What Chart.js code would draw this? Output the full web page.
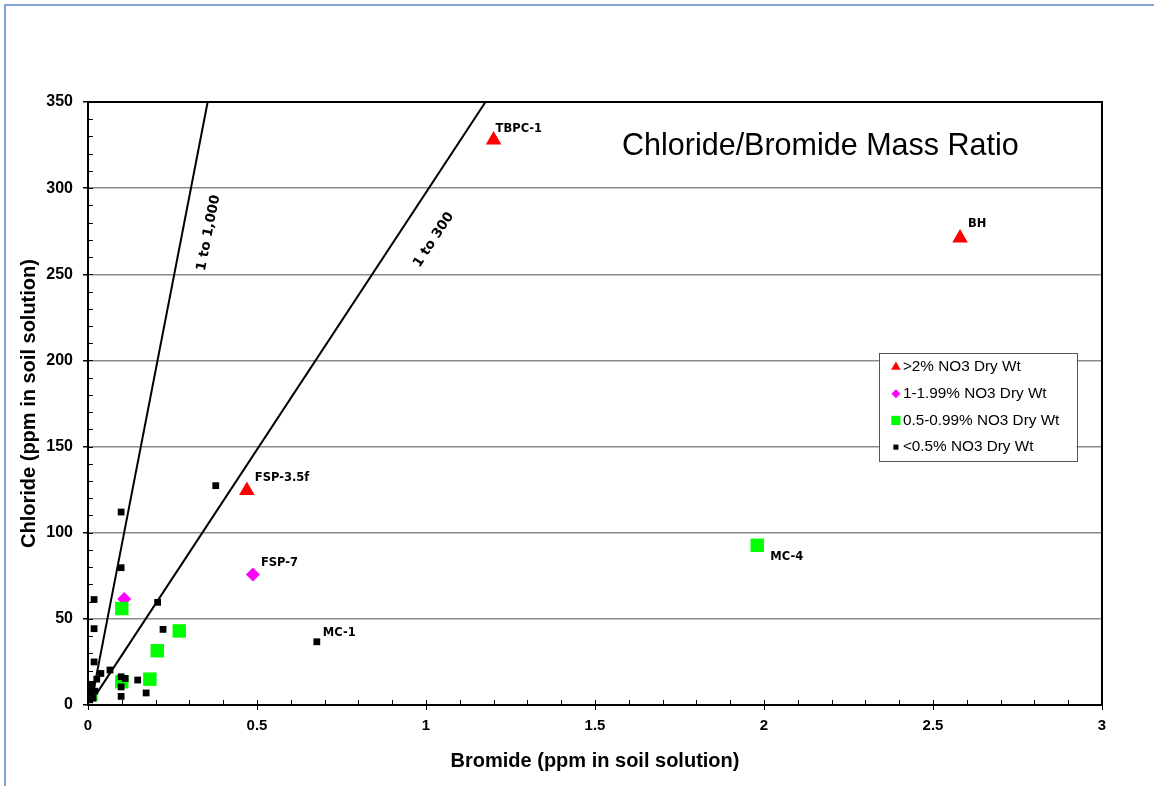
<!DOCTYPE html>
<html>
<head>
<meta charset="utf-8">
<title>Chloride/Bromide Mass Ratio</title>
<script src="https://cdn.jsdelivr.net/npm/chart.js@4.4.0/dist/chart.umd.min.js"></script>
<style>
	html, body { margin: 0; padding: 0; background: #fff; }
	canvas { display: block; }
</style>
</head>
<body>
<canvas id="chart" width="1154" height="786"></canvas>
<script>
// Bromide (x) and chloride (y) in ppm, grouped by NO3 dry weight class
const highBr = [1.2, 2.58, 0.47];
const highCl = [328, 271, 124.5];
const highNames = ["TBPC-1", "BH", "FSP-3.5f"];

const midBr = [0.488, 0.107];
const midCl = [75.7, 61.5];
const midNames = ["FSP-7", ""];

const lowBr = [1.98, 0.1, 0.27, 0.205, 0.183, 0.1, 0.008];
const lowCl = [92.7, 56, 43, 31.5, 15, 13.5, 6];
const lowNames = ["MC-4", "", "", "", "", "", ""];

const traceBr = [0.378, 0.098, 0.098, 0.018, 0.206, 0.018, 0.222, 0.677, 0.018, 0.065, 0.038, 0.026,
	0.098, 0.11, 0.147, 0.098, 0.098, 0.172, 0.005, 0.01, 0.015, 0.005, 0.02, 0.012];
const traceCl = [127.3, 112, 79.7, 61.2, 59.6, 44.3, 43.9, 36.7, 25, 20.3, 18.3, 15,
	16.4, 15.4, 14.5, 10.5, 5, 7, 10, 7, 4, 3, 8, 12];
const traceNames = ["", "", "", "", "", "", "", "MC-1"];

// Reference ratio lines (Cl : Br)
const line1000Br = [0.012, 0.354];
const line1000Cl = [4, 350];
const line300Br = [0.02, 1.176];
const line300Cl = [5, 350];

const seriesLabels = [">2% NO3 Dry Wt", "1-1.99% NO3 Dry Wt", "0.5-0.99% NO3 Dry Wt", "<0.5% NO3 Dry Wt"];
const chartTitle = "Chloride/Bromide Mass Ratio";

const toPoints = (xs, ys) => xs.map((x, i) => ({ x: x, y: ys[i] }));

// label nudges in px for a few crowded points
const nameOffset = { "TBPC-1": [2, -11], "BH": [8, -14], "MC-4": [13, 12], "MC-1": [6, -9] };

const decorations = {
	id: "decorations",
	beforeDraw(chart) {
		const ctx = chart.ctx;
		ctx.save();
		ctx.fillStyle = "#fff";
		ctx.fillRect(0, 0, chart.width, chart.height);
		ctx.strokeStyle = "#5b87c5";
		ctx.lineWidth = 1.5;
		ctx.beginPath();
		ctx.moveTo(5, chart.height);
		ctx.lineTo(5, 5);
		ctx.lineTo(chart.width, 5);
		ctx.stroke();
		ctx.restore();
	},
	afterDatasetsDraw(chart) {
		const ctx = chart.ctx;
		const area = chart.chartArea;
		const xs = chart.scales.x;
		const ys = chart.scales.y;
		ctx.save();

		// plot frame
		ctx.strokeStyle = "#000";
		ctx.lineWidth = 2;
		ctx.strokeRect(area.left, area.top, area.right - area.left, area.bottom - area.top);

		// minor ticks
		ctx.lineWidth = 1;
		ctx.beginPath();
		for (let v = 10; v < 350; v += 10) {
			const py = Math.round(ys.getPixelForValue(v)) + 0.5;
			ctx.moveTo(area.left, py);
			ctx.lineTo(area.left + 5, py);
		}
		for (let k = 1; k < 30; k++) {
			const px = Math.round(xs.getPixelForValue(k / 10)) + 0.5;
			ctx.moveTo(px, area.bottom);
			ctx.lineTo(px, area.bottom - 5);
		}
		ctx.stroke();

		// point names
		ctx.fillStyle = "#000";
		ctx.font = "bold 11.5px 'DejaVu Sans'";
		ctx.textBaseline = "middle";
		ctx.textAlign = "left";
		chart.data.datasets.forEach((ds, di) => {
			if (!ds.names) return;
			chart.getDatasetMeta(di).data.forEach((el, i) => {
				const name = ds.names[i];
				if (!name) return;
				const off = nameOffset[name] || [8, -12];
				ctx.fillText(name, el.x + off[0], el.y + off[1]);
			});
		});

		// ratio line captions, turned to follow each line
		ctx.font = "bold 13.5px 'DejaVu Sans'";
		ctx.textAlign = "center";
		[["1 to 1,000", line1000Br, line1000Cl, 0.357, 274], ["1 to 300", line300Br, line300Cl, 1.023, 270]].forEach(([text, bx, cy, ax, ay]) => {
			const dx = xs.getPixelForValue(bx[1]) - xs.getPixelForValue(bx[0]);
			const dy = ys.getPixelForValue(cy[1]) - ys.getPixelForValue(cy[0]);
			ctx.save();
			ctx.translate(xs.getPixelForValue(ax), ys.getPixelForValue(ay));
			ctx.rotate(Math.atan2(dy, dx));
			ctx.fillText(text, 0, 0);
			ctx.restore();
		});

		// title inside the plot
		ctx.font = "30.5px 'Liberation Sans'";
		ctx.textAlign = "left";
		ctx.fillText(chartTitle, xs.getPixelForValue(1.58), ys.getPixelForValue(324));

		// legend box
		const bx = xs.getPixelForValue(2.34);
		const bw = xs.getPixelForValue(2.925) - bx;
		const by = ys.getPixelForValue(204.3);
		const bh = ys.getPixelForValue(141.6) - by;
		ctx.fillStyle = "#fff";
		ctx.fillRect(bx, by, bw, bh);
		ctx.strokeStyle = "#555";
		ctx.lineWidth = 1;
		ctx.strokeRect(Math.round(bx) + 0.5, Math.round(by) + 0.5, Math.round(bw), Math.round(bh));
		const legendMarks = [
			{ pointStyle: "triangle", radius: 5.5 },
			{ pointStyle: "rectRot", radius: 4.5 },
			{ pointStyle: "rect", radius: 6.5 },
			{ pointStyle: "rect", radius: 3.6 }
		];
		ctx.font = "15.3px 'Liberation Sans'";
		ctx.textAlign = "left";
		seriesLabels.forEach((label, i) => {
			const ds = chart.data.datasets[i];
			const rowY = by + 14 + i * 26.7;
			ctx.fillStyle = ds.backgroundColor;
			ctx.strokeStyle = ds.backgroundColor;
			Chart.helpers.drawPoint(ctx, { pointStyle: legendMarks[i].pointStyle, radius: legendMarks[i].radius, rotation: 0, borderWidth: 0 }, bx + 17, rowY);
			ctx.fillStyle = "#000";
			ctx.fillText(label, bx + 24, rowY);
		});

		ctx.restore();
	}
};

const tickFont = { family: "'Liberation Sans'", weight: "bold" };

new Chart(document.getElementById("chart"), {
	type: "scatter",
	data: {
		datasets: [
			{
				label: seriesLabels[0],
				data: toPoints(highBr, highCl),
				names: highNames,
				pointStyle: "triangle",
				pointRadius: 9,
				backgroundColor: "#ff0000",
				borderColor: "#ff0000",
				borderWidth: 0,
				order: 3,
			},
			{
				label: seriesLabels[1],
				data: toPoints(midBr, midCl),
				names: midNames,
				pointStyle: "rectRot",
				pointRadius: 7,
				backgroundColor: "#ff00ff",
				borderColor: "#ff00ff",
				borderWidth: 0,
				order: 2,
			},
			{
				label: seriesLabels[2],
				data: toPoints(lowBr, lowCl),
				names: lowNames,
				pointStyle: "rect",
				pointRadius: 9.5,
				backgroundColor: "#00ff00",
				borderColor: "#00ff00",
				borderWidth: 0,
				order: 1,
			},
			{
				label: seriesLabels[3],
				data: toPoints(traceBr, traceCl),
				names: traceNames,
				pointStyle: "rect",
				pointRadius: 4.8,
				backgroundColor: "#000000",
				borderColor: "#000000",
				borderWidth: 0,
				order: 0,
			},
			{
				label: "1 to 1,000",
				data: toPoints(line1000Br, line1000Cl),
				showLine: true,
				pointRadius: 0,
				borderColor: "#000",
				borderWidth: 2,
				order: 5,
			},
			{
				label: "1 to 300",
				data: toPoints(line300Br, line300Cl),
				showLine: true,
				pointRadius: 0,
				borderColor: "#000",
				borderWidth: 2,
				order: 5,
			},
		],
	},
	options: {
		responsive: false,
		animation: false,
		events: [],
		layout: { padding: { top: 102, right: 52, left: 0, bottom: 0 } },
		plugins: {
			legend: { display: false },
			tooltip: { enabled: false },
		},
		scales: {
			x: {
				type: "linear",
				min: 0,
				max: 3,
				ticks: {
					stepSize: 0.5,
					color: "#000",
					font: { ...tickFont, size: 15 },
					padding: 7,
					maxRotation: 0,
					callback: (v) => String(+v.toFixed(1)),
				},
				grid: { drawOnChartArea: false, tickLength: 5, tickColor: "#000" },
				border: { color: "#000", width: 2 },
				title: {
					display: true,
					text: "Bromide (ppm in soil solution)",
					color: "#000",
					font: { ...tickFont, size: 20 },
					padding: { top: 0, bottom: 13 },
				},
				afterFit(scale) { scale.height = 81; },
			},
			y: {
				min: 0,
				max: 350,
				ticks: {
					stepSize: 50,
					color: "#000",
					font: { ...tickFont, size: 16 },
					padding: 10,
				},
				grid: {
					color: (c) => (c.tick && c.tick.value > 0 && c.tick.value < 350 ? "#8a8a8a" : "rgba(0,0,0,0)"),
					lineWidth: 1.5,
					tickLength: 5,
					tickColor: "#000",
				},
				border: { color: "#000", width: 2 },
				title: {
					display: true,
					text: "Chloride (ppm in soil solution)",
					color: "#000",
					font: { ...tickFont, size: 20 },
					padding: { top: 17, bottom: 0 },
				},
				afterFit(scale) { scale.width = 88; },
			},
		},
	},
	plugins: [decorations],
});
</script>
</body>
</html>
